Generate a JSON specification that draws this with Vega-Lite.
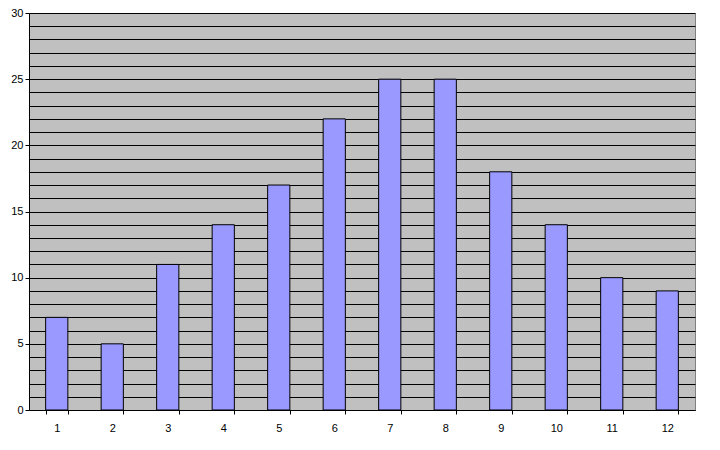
{
  "$schema": "https://vega.github.io/schema/vega-lite/v6.json",
  "width": 666,
  "height": 397,
  "autosize": {"type": "none"},
  "padding": {"left": 29, "top": 13, "right": 25, "bottom": 40},
  "background": "white",
  "config": {
    "view": {"fill": "#C0C0C0", "stroke": "#808080", "strokeWidth": 1},
    "font": "Liberation Sans"
  },
  "data": {"values": [
    {"x": "1", "y": 7}, {"x": "2", "y": 5}, {"x": "3", "y": 11}, {"x": "4", "y": 14},
    {"x": "5", "y": 17}, {"x": "6", "y": 22}, {"x": "7", "y": 25}, {"x": "8", "y": 25},
    {"x": "9", "y": 18}, {"x": "10", "y": 14}, {"x": "11", "y": 10}, {"x": "12", "y": 9}
  ]},
  "mark": {"type": "bar", "fill": "#9999FF", "stroke": "#000000", "strokeWidth": 1},
  "encoding": {
    "x": {
      "field": "x", "type": "ordinal", "sort": null,
      "scale": {"paddingInner": 0.6, "paddingOuter": 0.3},
      "axis": {
        "title": null, "labelAngle": 0, "tickBand": "extent", "grid": false,
        "domainColor": "#000000", "tickColor": "#000000", "tickSize": 4,
        "labelFontSize": 11, "labelColor": "#000000", "labelPadding": 8
      }
    },
    "y": {
      "field": "y", "type": "quantitative",
      "scale": {"domain": [0, 30], "nice": false},
      "axis": {
        "title": null,
        "values": [0,1,2,3,4,5,6,7,8,9,10,11,12,13,14,15,16,17,18,19,20,21,22,23,24,25,26,27,28,29,30],
        "labelExpr": "datum.value % 5 === 0 ? datum.label : ''",
        "tickOpacity": {"expr": "datum.value % 5 === 0 ? 1 : 0"},
        "grid": true, "gridColor": "#000000", "gridOpacity": 1, "gridWidth": 1,
        "domainColor": "#000000", "tickColor": "#000000", "tickSize": 4,
        "labelFontSize": 11, "labelColor": "#000000", "labelPadding": 2
      }
    }
  }
}
